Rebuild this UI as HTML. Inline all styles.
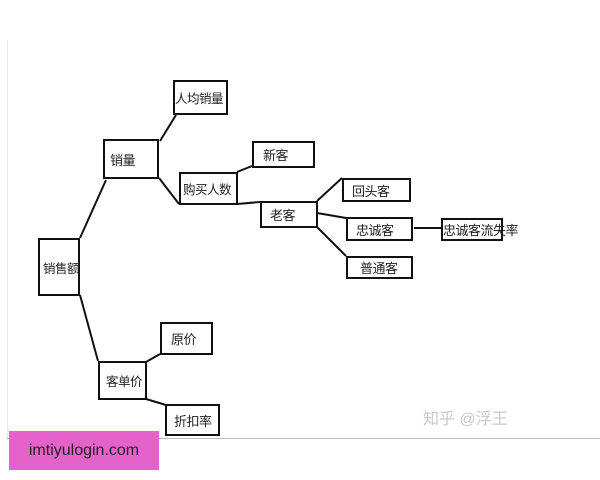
<!DOCTYPE html>
<html><head><meta charset="utf-8"><style>
body{margin:0;background:#fff;width:600px;height:480px;overflow:hidden;position:relative;font-family:"Liberation Sans","Noto Sans CJK SC",sans-serif}
.b{position:absolute;border:2px solid #111;box-sizing:border-box;font-size:13px;letter-spacing:-0.5px;color:#222;display:flex;align-items:center;padding-left:5px;background:#fff;white-space:nowrap;overflow:visible}
</style></head><body>
<div style="position:absolute;left:7px;top:40px;width:1px;height:400px;background:#e8e8e8"></div>
<div style="position:absolute;left:7px;top:438px;width:593px;height:1px;background:#bbb"></div>
<svg width="600" height="480" style="position:absolute;left:0;top:0" stroke="#111" stroke-width="2">
<line x1="80" y1="238" x2="106" y2="180"/>
<line x1="160" y1="141" x2="176" y2="115"/>
<line x1="159" y1="178" x2="179" y2="204"/>
<line x1="237" y1="172" x2="252" y2="166"/>
<line x1="237" y1="204" x2="260" y2="202"/>
<line x1="317" y1="201" x2="342" y2="178"/>
<line x1="317" y1="213" x2="346" y2="218"/>
<line x1="317" y1="227" x2="346" y2="256"/>
<line x1="414" y1="228" x2="441" y2="228"/>
<line x1="80" y1="295" x2="98" y2="361"/>
<line x1="146" y1="362" x2="160" y2="354"/>
<line x1="146" y1="399" x2="166" y2="405"/>
</svg>
<div class="b" style="left:173px;top:80px;width:55px;height:35px;padding-left:0;font-size:12.5px">人均销量</div>
<div class="b" style="left:103px;top:139px;width:56px;height:40px">销量</div>
<div class="b" style="left:179px;top:172px;width:59px;height:33px;padding-left:2px;font-size:12.5px">购买人数</div>
<div class="b" style="left:252px;top:141px;width:63px;height:27px;padding-left:9px">新客</div>
<div class="b" style="left:260px;top:201px;width:58px;height:27px;padding-left:8px">老客</div>
<div class="b" style="left:38px;top:238px;width:42px;height:58px;padding-left:3px;font-size:12.5px">销售额</div>
<div class="b" style="left:342px;top:178px;width:69px;height:24px;padding-left:8px">回头客</div>
<div class="b" style="left:346px;top:217px;width:67px;height:24px;padding-left:8px">忠诚客</div>
<div class="b" style="left:346px;top:256px;width:67px;height:23px;padding-left:12px">普通客</div>
<div class="b" style="left:441px;top:218px;width:62px;height:23px;padding-left:0;background:transparent">忠诚客流失率</div>
<div class="b" style="left:160px;top:322px;width:53px;height:33px;padding-left:9px">原价</div>
<div class="b" style="left:98px;top:361px;width:49px;height:39px;padding-left:6px;font-size:12.5px">客单价</div>
<div class="b" style="left:165px;top:404px;width:55px;height:32px;padding-left:7px">折扣率</div>
<div style="position:absolute;left:423px;top:405px;font-size:16px;color:#c8c8c8">知乎 @浮王</div>
<div style="position:absolute;left:9px;top:431px;width:150px;height:39px;background:#e462c9;color:#222;font-size:16px;line-height:39px;text-align:center">imtiyulogin.com</div>
</body></html>
